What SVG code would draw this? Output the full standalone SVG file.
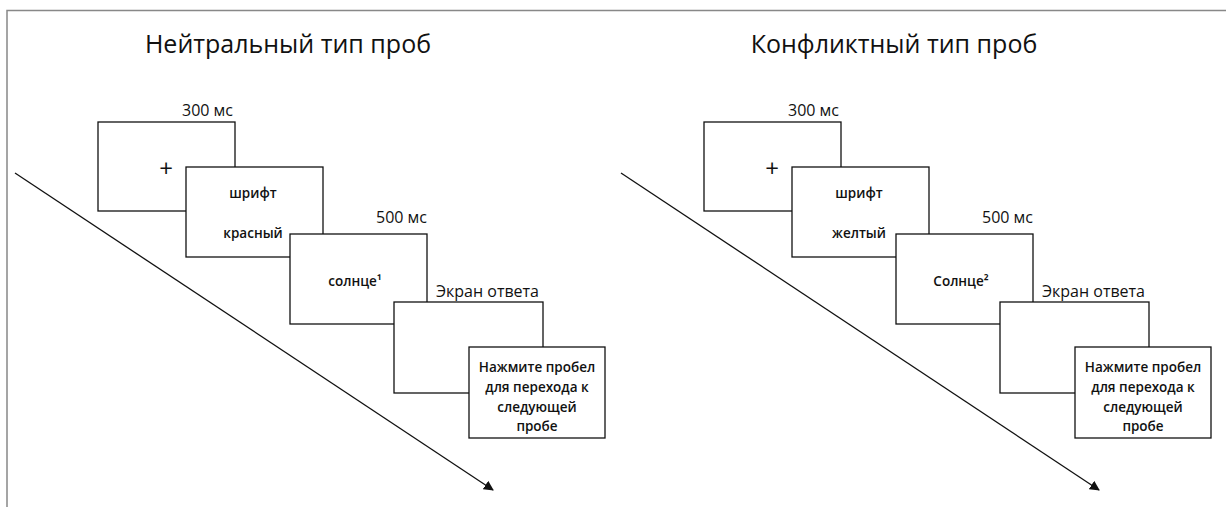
<svg xmlns="http://www.w3.org/2000/svg" width="1226" height="507" viewBox="0 0 1226 507">
<style>
text{font-family:"Open Sans","Noto Sans","Liberation Sans",sans-serif;fill:#111}
.title{font-size:25px;text-anchor:middle}
.lbl{font-size:16px;text-anchor:end}
.in{font-size:13.5px;font-weight:600;text-anchor:middle}
.plus{font-size:24px;text-anchor:middle}
.box{fill:#fff;stroke:#111;stroke-width:1.3}
.frame{stroke:#888;stroke-width:1.5;fill:none}
.arr{stroke:#111;stroke-width:1.3;fill:none}
</style>
<defs>
<marker id="ah" viewBox="0 0 10 10" refX="9" refY="5" markerWidth="10" markerHeight="10" markerUnits="userSpaceOnUse" orient="auto">
<path d="M0,0 L10,5 L0,10 z" fill="#111"/>
</marker>
</defs>
<rect width="1226" height="507" fill="#fff"/>
<path class="frame" d="M7,507 V10.5 H1226"/>
<g id="connectors">
<line class="arr" x1="15" y1="173" x2="493" y2="490" marker-end="url(#ah)"/>
<line class="arr" x1="621" y1="173" x2="1099" y2="490" marker-end="url(#ah)"/>
</g>
<g id="neutral">
<text id="title-neutral" class="title" x="288" y="53">Нейтральный тип проб</text>
<g id="n-fix"><text class="lbl" x="233" y="116">300 мс</text><rect class="box" x="98" y="122" width="137" height="89"/><text class="plus" x="166" y="177">+</text></g>
<g id="n-cue"><rect class="box" x="186" y="167" width="137" height="90"/><text class="in" x="253" y="198">шрифт</text><text class="in" x="253" y="238">красный</text></g>
<g id="n-word"><text class="lbl" x="427" y="223">500 мс</text><rect class="box" x="290" y="234" width="137" height="90"/><text class="in" x="355" y="286">солнце¹</text></g>
<g id="n-resp"><text class="lbl" x="539" y="297">Экран ответа</text><rect class="box" x="394" y="302" width="149" height="91"/></g>
<g id="n-next"><rect class="box" x="469" y="347" width="136" height="91"/><text class="in" x="537" y="372">Нажмите пробел</text><text class="in" x="537" y="392">для перехода к</text><text class="in" x="537" y="412">следующей</text><text class="in" x="537" y="431">пробе</text></g>
</g>
<g id="conflict" transform="translate(606,0)">
<text id="title-conflict" class="title" x="288" y="53">Конфликтный тип проб</text>
<g id="c-fix"><text class="lbl" x="233" y="116">300 мс</text><rect class="box" x="98" y="122" width="137" height="89"/><text class="plus" x="166" y="177">+</text></g>
<g id="c-cue"><rect class="box" x="186" y="167" width="137" height="90"/><text class="in" x="253" y="198">шрифт</text><text class="in" x="253" y="238">желтый</text></g>
<g id="c-word"><text class="lbl" x="427" y="223">500 мс</text><rect class="box" x="290" y="234" width="137" height="90"/><text class="in" x="355" y="286">Солнце²</text></g>
<g id="c-resp"><text class="lbl" x="539" y="297">Экран ответа</text><rect class="box" x="394" y="302" width="149" height="91"/></g>
<g id="c-next"><rect class="box" x="469" y="347" width="136" height="91"/><text class="in" x="537" y="372">Нажмите пробел</text><text class="in" x="537" y="392">для перехода к</text><text class="in" x="537" y="412">следующей</text><text class="in" x="537" y="431">пробе</text></g>
</g>
</svg>
